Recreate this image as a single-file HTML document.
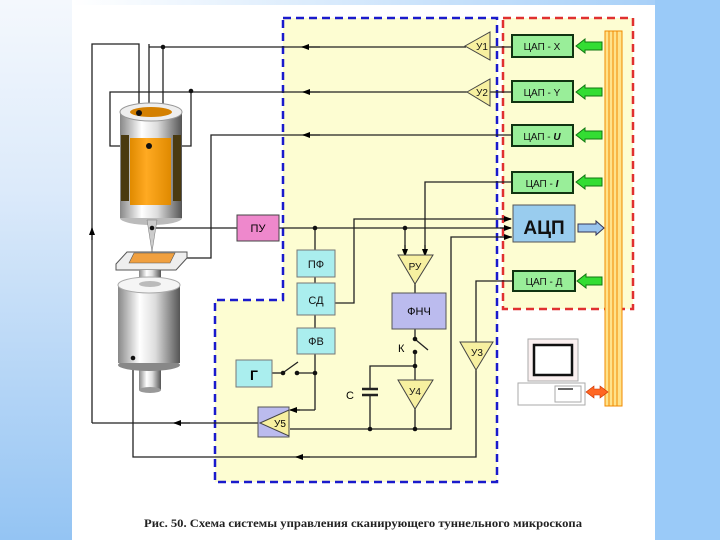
<!DOCTYPE html>
<html><head><meta charset="utf-8"><style>
html,body{margin:0;padding:0;width:720px;height:540px;overflow:hidden;background:#fff}
svg{display:block}
text{font-family:"Liberation Sans",sans-serif}
text.cap{font-family:"Liberation Serif",serif}
</style></head><body>
<svg width="720" height="540" viewBox="0 0 720 540" xmlns="http://www.w3.org/2000/svg">
<defs>
<linearGradient id="lg" x1="0" y1="0" x2="0" y2="1"><stop offset="0" stop-color="#f4f8fd"/><stop offset="0.35" stop-color="#dceafa"/><stop offset="1" stop-color="#94c4f3"/></linearGradient>
<linearGradient id="tg" x1="0" y1="0" x2="1" y2="0"><stop offset="0" stop-color="#fff"/><stop offset="1" stop-color="#a8d0f8"/></linearGradient>
<linearGradient id="cyl" x1="0" y1="0" x2="1" y2="0"><stop offset="0" stop-color="#888"/><stop offset="0.35" stop-color="#fff"/><stop offset="0.6" stop-color="#ddd"/><stop offset="1" stop-color="#555"/></linearGradient>
<linearGradient id="org" x1="0" y1="0" x2="1" y2="0"><stop offset="0" stop-color="#e08a00"/><stop offset="0.4" stop-color="#ffaa22"/><stop offset="1" stop-color="#e08a00"/></linearGradient>
<marker id="ar" markerWidth="8" markerHeight="8" refX="7" refY="4" orient="auto" markerUnits="userSpaceOnUse"><path d="M0,1 L8,4 L0,7 Z" fill="#000"/></marker>
</defs>
<rect x="0" y="0" width="720" height="540" fill="#fff"/>
<rect x="0" y="0" width="72" height="540" fill="url(#lg)"/>
<rect x="72" y="0" width="583" height="5" fill="url(#tg)"/>
<rect x="655" y="0" width="65" height="540" fill="#9acaf8"/>

<path d="M283,18 H497 V482 H215 V300 H283 Z" fill="#fdfdd2"/>
<rect x="503" y="18" width="130" height="291" fill="#fdfdd2"/>
<path d="M283,18 H497 V482 H215 V300 H283 Z" fill="none" stroke="#1a1acc" stroke-width="2.5" stroke-dasharray="8,5"/>
<rect x="503" y="18" width="130" height="291" fill="none" stroke="#e03030" stroke-width="2.5" stroke-dasharray="8,5"/>

<rect x="605" y="31" width="17" height="375" fill="#ffe28a" stroke="#f08a00" stroke-width="1"/>
<g stroke="#f08a00" stroke-width="1"><line x1="609" y1="31" x2="609" y2="406"/><line x1="613" y1="31" x2="613" y2="406"/><line x1="617" y1="31" x2="617" y2="406"/></g>

<g stroke="#113311" stroke-width="2" fill="#99ee99">
<rect x="512" y="35" width="61" height="22"/>
<rect x="512" y="81" width="61" height="21"/>
<rect x="512" y="125" width="61" height="21"/>
<rect x="512" y="172" width="61" height="21"/>
<rect x="513" y="271" width="62" height="20"/>
</g>
<rect x="513" y="205" width="62" height="37" fill="#99ccee" stroke="#555" stroke-width="1"/>
<g font-size="10" text-anchor="middle" fill="#111">
<text x="542" y="50">ЦАП - X</text>
<text x="542" y="96">ЦАП - Y</text>
<text x="542" y="140">ЦАП - <tspan font-style="italic" font-weight="bold">U</tspan></text>
<text x="542" y="187">ЦАП - <tspan font-style="italic" font-weight="bold">I</tspan></text>
<text x="544" y="285">ЦАП - Д</text>
</g>
<text x="544" y="234" font-size="19" font-weight="bold" text-anchor="middle" fill="#111">АЦП</text>
<g fill="#33dd33" stroke="#117711" stroke-width="1">
<path d="M576,46 L585,39 V42 H602 V50 H585 V53 Z"/>
<path d="M576,92 L585,85 V88 H602 V96 H585 V99 Z"/>
<path d="M576,135 L585,128 V131 H602 V139 H585 V142 Z"/>
<path d="M576,182 L585,175 V178 H602 V186 H585 V189 Z"/>
<path d="M577,281 L586,274 V277 H602 V285 H586 V288 Z"/>
</g>
<path d="M578,224 H596 V221 L604,228 L596,235 V232 H578 Z" fill="#99c4ee" stroke="#335" stroke-width="1"/>

<g stroke="#222" stroke-width="1.3" fill="none">
<polyline points="92,423 92,44 139,44 139,113"/>
<line x1="149" y1="44" x2="149" y2="146"/>
<line x1="149" y1="47" x2="466" y2="47"/>
<line x1="163" y1="47" x2="163" y2="105"/>
<line x1="490" y1="47" x2="512" y2="47"/>
<polyline points="120,146 110,146 110,92 467,92"/>
<polyline points="180,146 191,146 191,91"/>
<line x1="490" y1="92" x2="512" y2="92"/>
<polyline points="512,135 211,135 211,258 184,258"/>
<polyline points="512,182 425,182 425,255"/>
<line x1="152" y1="228" x2="237" y2="228"/>
<line x1="279" y1="228" x2="511" y2="228"/>
<line x1="315" y1="228" x2="315" y2="410"/>
<line x1="405" y1="228" x2="405" y2="255"/>
<polyline points="335,303 354,303 354,219 511,219"/>
<polyline points="512,237 451,237 451,429 290,429"/>
<line x1="415" y1="283" x2="415" y2="293"/>
<polyline points="415,329 415,339"/>
<line x1="416" y1="340" x2="428" y2="350"/>
<line x1="415" y1="352" x2="415" y2="380"/>
<polyline points="415,366 370,366 370,388"/>
<line x1="370" y1="396" x2="370" y2="429"/>
<line x1="415" y1="408" x2="415" y2="429"/>
<polyline points="512,281 476,281 476,342"/>
<polyline points="476,370 476,457 133,457 133,362"/>
<line x1="258" y1="423" x2="92" y2="423"/>
<polyline points="315,410 291,410"/>
<line x1="272" y1="373" x2="283" y2="373"/>
<line x1="284" y1="372" x2="298" y2="362"/>
<line x1="297" y1="373" x2="315" y2="373"/>
</g>
<g stroke="#222" stroke-width="2.5"><line x1="362" y1="389" x2="378" y2="389"/><line x1="362" y1="395" x2="378" y2="395"/></g>
<g stroke="#222" stroke-width="1.3" fill="none">
<line x1="320" y1="47" x2="302" y2="47" marker-end="url(#ar)"/>
<line x1="320" y1="92" x2="303" y2="92" marker-end="url(#ar)"/>
<line x1="320" y1="135" x2="303" y2="135" marker-end="url(#ar)"/>
<line x1="500" y1="219" x2="511" y2="219" marker-end="url(#ar)"/>
<line x1="500" y1="228" x2="511" y2="228" marker-end="url(#ar)"/>
<line x1="500" y1="237" x2="511" y2="237" marker-end="url(#ar)"/>
<line x1="405" y1="245" x2="405" y2="256" marker-end="url(#ar)"/>
<line x1="425" y1="245" x2="425" y2="256" marker-end="url(#ar)"/>
<line x1="300" y1="410" x2="290" y2="410" marker-end="url(#ar)"/>
<line x1="190" y1="423" x2="174" y2="423" marker-end="url(#ar)"/>
<line x1="310" y1="457" x2="296" y2="457" marker-end="url(#ar)"/>
<line x1="92" y1="240" x2="92" y2="228" marker-end="url(#ar)"/>
</g>
<g fill="#111">
<circle cx="163" cy="47" r="2.3"/><circle cx="191" cy="91" r="2.3"/>
<circle cx="315" cy="228" r="2.3"/><circle cx="405" cy="228" r="2.3"/>
<circle cx="283" cy="373" r="2.3"/><circle cx="297" cy="373" r="2.3"/><circle cx="315" cy="373" r="2.3"/>
<circle cx="415" cy="339" r="2.3"/><circle cx="415" cy="352" r="2.3"/><circle cx="415" cy="366" r="2.3"/>
<circle cx="370" cy="429" r="2.3"/><circle cx="415" cy="429" r="2.3"/>
</g>

<g fill="#f7f0a0" stroke="#444" stroke-width="1">
<path d="M465,46 L490,32 V60 Z"/>
<path d="M467,92 L490,79 V106 Z"/>
<path d="M398,255 H433 L415,284 Z"/>
<path d="M398,380 H433 L415,409 Z"/>
<path d="M460,342 H493 L476,370 Z"/>
</g>
<g font-size="10" fill="#111" text-anchor="middle">
<text x="482" y="50">У1</text><text x="482" y="96">У2</text>
<text x="415" y="270">РУ</text><text x="415" y="395">У4</text><text x="477" y="356">У3</text>
</g>
<rect x="237" y="215" width="42" height="26" fill="#ee88cc" stroke="#444"/>
<text x="258" y="232" font-size="11" text-anchor="middle">ПУ</text>
<g fill="#aaeeee" stroke="#777">
<rect x="297" y="250" width="38" height="27"/>
<rect x="297" y="283" width="38" height="32"/>
<rect x="297" y="328" width="38" height="26"/>
<rect x="236" y="360" width="36" height="27"/>
</g>
<g font-size="11" text-anchor="middle" fill="#111">
<text x="316" y="268">ПФ</text><text x="316" y="304">СД</text><text x="316" y="345">ФВ</text>
</g>
<text x="254" y="380" font-size="14" font-weight="bold" text-anchor="middle">Г</text>
<rect x="392" y="293" width="54" height="36" fill="#bbbbee" stroke="#555"/>
<text x="419" y="315" font-size="11" text-anchor="middle">ФНЧ</text>
<text x="398" y="352" font-size="11">К</text>
<text x="346" y="399" font-size="11">С</text>
<rect x="258" y="407" width="31" height="30" fill="#bbbbee" stroke="#555"/>
<path d="M260,423 L289,410 V436 Z" fill="#f7f0a0" stroke="#444"/>
<text x="280" y="427" font-size="10" text-anchor="middle">У5</text>

<ellipse cx="151" cy="218" rx="31" ry="7" fill="#bbb"/>
<rect x="120" y="112" width="62" height="106" fill="url(#cyl)"/>
<ellipse cx="151" cy="112" rx="31" ry="9" fill="#eee" stroke="#999"/>
<ellipse cx="151" cy="112" rx="21" ry="5" fill="#d48000"/>
<rect x="121" y="135" width="8" height="66" fill="#4a3a10"/>
<rect x="173" y="135" width="8" height="66" fill="#4a3a10"/>
<rect x="130" y="138" width="41" height="67" fill="url(#org)"/>
<path d="M147,220 L157,220 L152,252 Z" fill="#ccc" stroke="#777" stroke-width="0.5"/>
<g fill="#111"><circle cx="139" cy="113" r="3"/><circle cx="149" cy="146" r="3"/><circle cx="152" cy="228" r="2.3"/><circle cx="182" cy="258" r="2.3"/></g>
<path d="M116,264 L127,252 H187 L187,258 L176,270 H116 Z" fill="#eee" stroke="#555"/>
<path d="M129,263 L134,253 H175 L170,263 Z" fill="#f0a040" stroke="#555" stroke-width="0.6"/>
<rect x="139" y="270" width="22" height="20" fill="url(#cyl)"/>
<rect x="139" y="365" width="22" height="25" fill="url(#cyl)"/>
<ellipse cx="150" cy="390" rx="11" ry="3" fill="#999"/>
<ellipse cx="149" cy="365" rx="31" ry="6" fill="#888"/>
<rect x="118" y="285" width="62" height="78" fill="url(#cyl)"/>
<ellipse cx="149" cy="285" rx="31" ry="8" fill="#f5f5f5" stroke="#aaa"/>
<ellipse cx="150" cy="284" rx="11" ry="3" fill="#bbb"/>
<circle cx="133" cy="358" r="2.3" fill="#111"/>

<rect x="528" y="339" width="50" height="42" fill="#fbf0f0" stroke="#aaa"/>
<rect x="534" y="345" width="38" height="30" fill="#fff" stroke="#111" stroke-width="2.5"/>
<rect x="518" y="383" width="67" height="22" fill="#fff" stroke="#aaa"/>
<rect x="555" y="386" width="26" height="16" fill="none" stroke="#aaa"/>
<line x1="558" y1="389" x2="573" y2="389" stroke="#333" stroke-width="1.5"/>
<path d="M586,392 L594,386 V389 H600 V386 L608,392 L600,398 V395 H594 V398 Z" fill="#ff6622" stroke="#cc3300" stroke-width="0.6"/>

<text class="cap" x="363" y="527" font-size="12" font-weight="bold" text-anchor="middle" fill="#222" textLength="438" lengthAdjust="spacingAndGlyphs">Рис. 50. Схема системы управления сканирующего туннельного микроскопа</text>
</svg>
</body></html>
